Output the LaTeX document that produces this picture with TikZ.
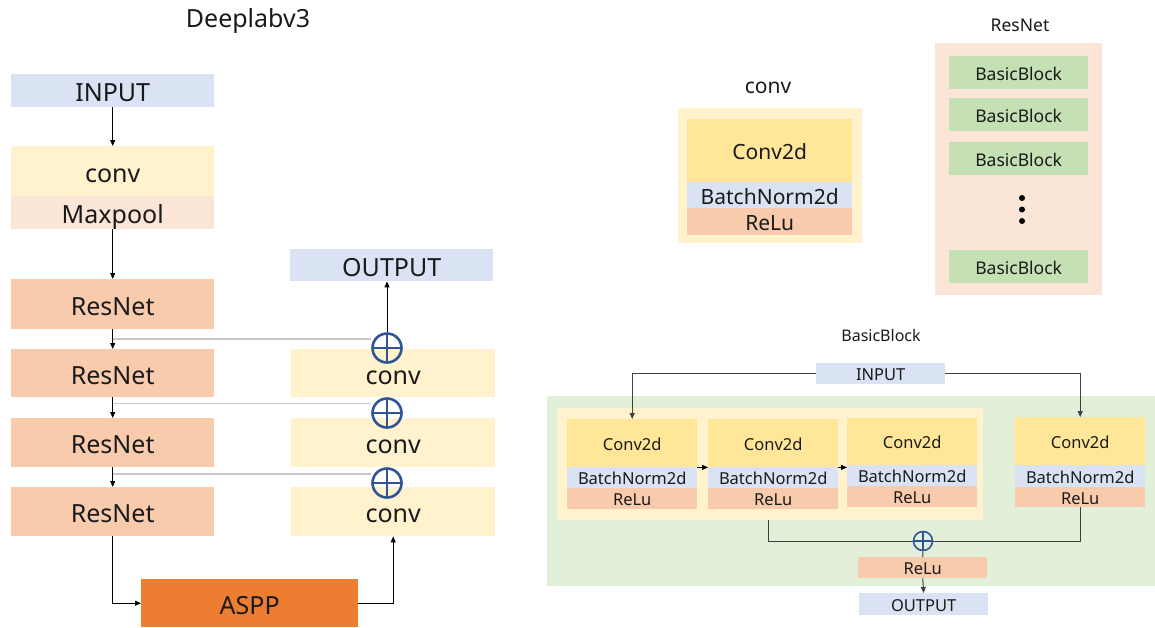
\documentclass[tikz,border=0pt]{standalone}
\usepackage{fontspec}
\setmainfont{Noto Sans}
\usetikzlibrary{arrows.meta,calc}
\definecolor{lblue}{HTML}{DAE3F3}
\definecolor{pyellow}{HTML}{FFF2CC}
\definecolor{lpeach}{HTML}{FBE5D6}
\definecolor{peach}{HTML}{F8CBAD}
\definecolor{gold}{HTML}{FFE699}
\definecolor{bgreen}{HTML}{C5E0B4}
\definecolor{lgreen}{HTML}{E2F0D9}
\definecolor{aorange}{HTML}{ED7D31}
\definecolor{cblue}{HTML}{2F5597}
\definecolor{lgray}{HTML}{C8C8C8}
\definecolor{dline}{HTML}{404040}
\definecolor{txt}{HTML}{1A1A1A}
\tikzset{
  box/.style={rectangle, inner sep=0pt, anchor=north west, text=txt},
  bigtxt/.style={font=\fontsize{25}{28}\selectfont, text height=22pt, text depth=0pt},
  midtxt/.style={font=\fontsize{21}{24}\selectfont, text height=18.5pt, text depth=0pt},
  smltxt/.style={font=\fontsize{16.5}{19}\selectfont, text height=14.5pt, text depth=0pt},
  bbtxt/.style={font=\fontsize{17.5}{20}\selectfont, text height=15.5pt, text depth=0pt},
  arr/.style={draw=black, line width=1pt, -{Triangle[length=6pt,width=5pt]}},
  plainline/.style={draw=dline, line width=1pt},
  skipline/.style={draw=lgray, line width=1.6pt},
  oplus/.style={circle, draw=cblue, line width=#1, inner sep=0pt,
    path picture={\draw[cblue, line width=#1]
      (path picture bounding box.north) -- (path picture bounding box.south)
      (path picture bounding box.west) -- (path picture bounding box.east);}},
}
\begin{document}
\begin{tikzpicture}[x=1pt,y=-1pt]
\useasboundingbox (0,0) rectangle (1155,627);

% ---------------- Deeplabv3 ----------------
\node[font=\fontsize{25}{28}\selectfont, text=txt] (title) at (248,21) {Deeplabv3};
\node[box,bigtxt,fill=lblue,minimum width=203pt,minimum height=33pt] (in) at (11,74) {INPUT};
\node[box,bigtxt,fill=pyellow,minimum width=203pt,minimum height=50pt] (cv) at (11,146) {conv};
\node[box,bigtxt,fill=lpeach,minimum width=203pt,minimum height=33pt] (mp) at (11,196) {Maxpool};
\node[box,bigtxt,fill=peach,minimum width=203pt,minimum height=50pt] (r1) at (11,279) {ResNet};
\node[box,bigtxt,fill=peach,minimum width=203pt,minimum height=48pt] (r2) at (11,349) {ResNet};
\node[box,bigtxt,fill=peach,minimum width=203pt,minimum height=49pt] (r3) at (11,418) {ResNet};
\node[box,bigtxt,fill=peach,minimum width=203pt,minimum height=49pt] (r4) at (11,487) {ResNet};
\node[box,bigtxt,fill=lblue,minimum width=203pt,minimum height=32pt] (out) at (290,249) {OUTPUT};
\node[box,bigtxt,fill=pyellow,minimum width=204pt,minimum height=48pt] (k1) at (291,349) {conv};
\node[box,bigtxt,fill=pyellow,minimum width=204pt,minimum height=49pt] (k2) at (291,418) {conv};
\node[box,bigtxt,fill=pyellow,minimum width=204pt,minimum height=49pt] (k3) at (291,487) {conv};
\node[box,bigtxt,fill=aorange,minimum width=217pt,minimum height=48pt] (aspp) at (141,579) {ASPP};

\node[oplus=2.6pt,minimum size=29pt] (p1) at (387,348) {};
\node[oplus=2.6pt,minimum size=29pt] (p2) at (387,413) {};
\node[oplus=2.6pt,minimum size=29pt] (p3) at (387,483) {};

\draw[arr] (in.south) -- (cv.north);
\draw[arr] (mp.south) -- (r1.north);
\draw[arr] (r1.south) -- (r2.north);
\draw[arr] (r2.south) -- (r3.north);
\draw[arr] (r3.south) -- (r4.north);

\coordinate (m1) at ($(r1.south)!0.5!(r2.north)$);
\coordinate (m2) at ($(r2.south)!0.3!(r3.north)$);
\coordinate (m3) at ($(r3.south)!0.35!(r4.north)$);
\draw[skipline] (m1) -- (m1 -| p1.west);
\draw[skipline] (m2) -- (m2 -| p2.west);
\draw[skipline] (m3) -- (m3 -| p3.west);

\draw[arr] (p1.north) -- (p1.north |- out.south);
\draw[arr] (r4.south) |- (aspp.west);
\draw[arr] (aspp.east) -| (k3.south);

% ---------------- conv detail ----------------
\node[font=\fontsize{21}{24}\selectfont, text=txt] (convlbl) at (768,88) {conv};
\node[box,fill=pyellow,minimum width=184pt,minimum height=135pt] (cframe) at (678,108) {};
\node[box,midtxt,fill=gold,minimum width=165pt,minimum height=63pt] (cc) at (687,119) {Conv2d};
\node[box,midtxt,fill=lblue,minimum width=165pt,minimum height=26pt] (cb) at (687,182) {BatchNorm2d};
\node[box,midtxt,fill=peach,minimum width=165pt,minimum height=27pt] (cr) at (687,208) {ReLu};

% ---------------- ResNet detail ----------------
\node[font=\fontsize{17.5}{20}\selectfont, text=txt] (reslbl) at (1020,25) {ResNet};
\node[box,fill=lpeach,minimum width=167pt,minimum height=252pt] (rframe) at (935,43) {};
\node[box,bbtxt,fill=bgreen,minimum width=139pt,minimum height=33pt] (bb1) at (949,56) {BasicBlock};
\node[box,bbtxt,fill=bgreen,minimum width=139pt,minimum height=33pt] (bb2) at (949,98) {BasicBlock};
\node[box,bbtxt,fill=bgreen,minimum width=139pt,minimum height=33pt] (bb3) at (949,142) {BasicBlock};
\node[box,bbtxt,fill=bgreen,minimum width=139pt,minimum height=33pt] (bb4) at (949,250) {BasicBlock};
\fill (1022,198) circle (3pt) (1022,209.5) circle (3pt) (1022,221) circle (3pt);

% ---------------- BasicBlock detail ----------------
\node[font=\fontsize{16}{19}\selectfont, text=txt] (bblbl) at (881,335) {BasicBlock};
\node[box,fill=lgreen,minimum width=608pt,minimum height=190pt] (gbg) at (547,396) {};
\node[box,fill=pyellow,minimum width=426pt,minimum height=112pt] (yfr) at (557,408) {};
\node[box,smltxt,fill=lblue,minimum width=129pt,minimum height=21pt] (bin) at (816,363) {INPUT};

\node[box,smltxt,fill=gold,minimum width=130pt,minimum height=48pt] (c1) at (567,419) {Conv2d};
\node[box,smltxt,fill=lblue,minimum width=130pt,minimum height=21pt] (n1) at (567,467) {BatchNorm2d};
\node[box,smltxt,fill=peach,minimum width=130pt,minimum height=21pt] (e1) at (567,488) {ReLu};

\node[box,smltxt,fill=gold,minimum width=130pt,minimum height=48pt] (c2) at (708,419) {Conv2d};
\node[box,smltxt,fill=lblue,minimum width=130pt,minimum height=21pt] (n2) at (708,467) {BatchNorm2d};
\node[box,smltxt,fill=peach,minimum width=130pt,minimum height=21pt] (e2) at (708,488) {ReLu};

\node[box,smltxt,fill=gold,minimum width=130pt,minimum height=47pt] (c3) at (847,418) {Conv2d};
\node[box,smltxt,fill=lblue,minimum width=130pt,minimum height=21pt] (n3) at (847,465) {BatchNorm2d};
\node[box,smltxt,fill=peach,minimum width=130pt,minimum height=21pt] (e3) at (847,486) {ReLu};

\node[box,smltxt,fill=gold,minimum width=130pt,minimum height=48pt] (c4) at (1015,417) {Conv2d};
\node[box,smltxt,fill=lblue,minimum width=130pt,minimum height=22pt] (n4) at (1015,465) {BatchNorm2d};
\node[box,smltxt,fill=peach,minimum width=130pt,minimum height=20pt] (e4) at (1015,487) {ReLu};

\node[oplus=1.6pt,minimum size=19pt] (bp) at (923,541) {};
\node[box,smltxt,fill=peach,minimum width=129pt,minimum height=21pt] (brelu) at (858,557) {ReLu};
\node[box,smltxt,fill=lblue,minimum width=129pt,minimum height=22pt] (bout) at (859,593) {OUTPUT};

\draw[arr,draw=dline] (bin.west) -| (c1.north);
\draw[arr,draw=dline] (bin.east) -| (c4.north);
\draw[arr,line width=0.8pt] (c1.south east) -- (c2.south west);
\draw[arr,line width=0.8pt] (c2.south east) -- (c3.south west |- c2.south);
\draw[plainline] ([xshift=-5pt]e2.south |- yfr.south) |- (bp.west);
\draw[plainline] (e4.south) |- (bp.east);
\draw[plainline] (bp.south) -- (brelu.north);
\draw[arr,draw=dline] (brelu.south) -- (bout.north);
\end{tikzpicture}
\end{document}
